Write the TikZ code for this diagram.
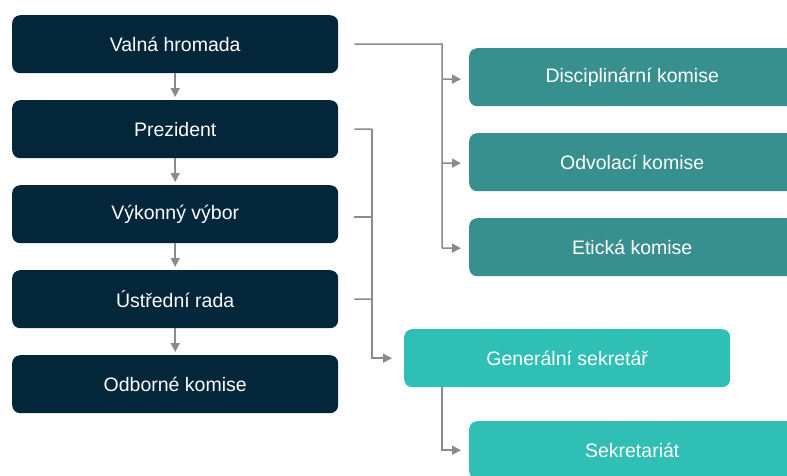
\documentclass[tikz,border=0pt]{standalone}
\usepackage{fontspec}
\setmainfont{Liberation Sans}
\usetikzlibrary{arrows.meta}
\definecolor{navy}{HTML}{03263A}
\definecolor{tealA}{HTML}{38908E}
\definecolor{tealB}{HTML}{2FBFB4}
\definecolor{lineg}{HTML}{8B8B8F}
\begin{document}
\begin{tikzpicture}[x=1pt,y=-1pt,
  boxA/.style={draw=none,fill=navy,text=white,rounded corners=8pt,minimum width=326pt,minimum height=58pt,inner sep=0pt,anchor=north west,font=\fontsize{19.5}{23}\selectfont},
  boxB/.style={boxA,fill=tealA},
  boxC/.style={boxA,fill=tealB},
  conn/.style={draw=lineg,line width=1.5pt},
  arr/.style={conn,-{Triangle[length=9pt,width=9pt]}}]
\useasboundingbox (0,0) rectangle (787,475);
\clip (0,0) rectangle (787,475);
\node[boxA] (vh) at (12,15) {Valná hromada};
\node[boxA] (pr) at (12,100) {Prezident};
\node[boxA] (vv) at (12,185) {Výkonný výbor};
\node[boxA] (ur) at (12,270) {Ústřední rada};
\node[boxA] (ok) at (12,355) {Odborné komise};
\node[boxB] (dk) at (469,48) {Disciplinární komise};
\node[boxB] (ov) at (469,133) {Odvolací komise};
\node[boxB] (ek) at (469,218) {Etická komise};
\node[boxC] (gs) at (404,329) {Generální sekretář};
\node[boxC] (sk) at (469,421) {Sekretariát};
\foreach \a/\b in {vh/pr,pr/vv,vv/ur,ur/ok}
  \draw[arr] (\a.south) -- ([yshift=3pt]\b.north);
% bracket 1
\coordinate (t1) at ([xshift=16pt]vh.east);
\coordinate (b1) at (442,44);
\draw[conn] (t1) -- (b1) -- (442,248);
\draw[arr] (442,79) -- ([xshift=-8pt,yshift=-2pt]dk.west);
\draw[arr] (442,163) -- ([xshift=-8pt,yshift=-1pt]ov.west);
\draw[arr] (442,248) -- ([xshift=-8pt,yshift=-1pt]ek.west);
% bracket 2
\coordinate (p1) at ([xshift=16pt]pr.east);
\coordinate (v1) at (354,217);
\coordinate (u1) at ([xshift=16pt]ur.east);
\draw[conn] (p1) -- (372,129);
\draw[conn] (v1) -- (372,217);
\draw[conn] (u1) -- (372,299);
\draw[arr] (372,129) |- ([xshift=-12pt]gs.west);
% sekretariat
\draw[arr] ([xshift=38pt]gs.south west) |- ([xshift=-8pt]sk.west);
\end{tikzpicture}
\end{document}
